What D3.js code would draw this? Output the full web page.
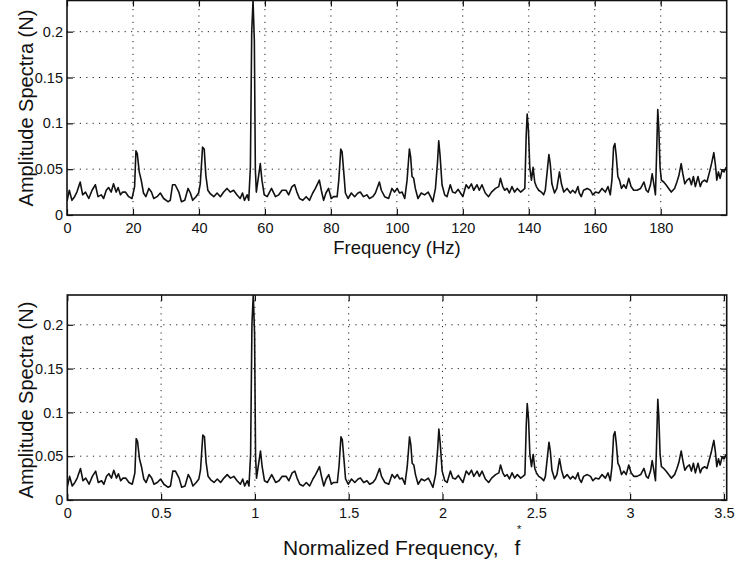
<!DOCTYPE html>
<html>
<head>
<meta charset="utf-8">
<script src="https://cdn.jsdelivr.net/npm/d3@7"></script>
<style>
  html, body { margin: 0; padding: 0; background: #fff; }
  svg { display: block; }
  text { font-family: "Liberation Sans", Arial, Helvetica, sans-serif; fill: #111; }
</style>
</head>
<body>
<svg id="chart" width="735" height="565"></svg>
<script>
// ---------- data ----------
const freqHz = [
  0.0, 0.7, 1.5, 2.3, 3.0, 4.0, 4.75, 5.6, 6.6, 7.6, 8.6, 9.4, 10.4, 11.1, 11.9, 12.6, 13.4, 14.1, 14.9, 15.5,
  16.2, 16.9, 17.7, 18.7, 19.7, 20.5, 20.9, 21.3, 21.9, 22.5, 23.2, 23.9, 24.8, 25.6, 26.3, 27.3, 28.3, 29.3, 30.6, 31.3,
  32.0, 32.8, 33.9, 34.7, 35.7, 36.7, 37.4, 38.1, 39.1, 39.9, 40.4, 41.1, 41.6, 42.1, 42.7, 43.5, 44.5, 45.5, 46.5, 47.5,
  48.5, 49.5, 50.5, 51.5, 52.5, 53.2, 53.8, 54.6, 55.1, 55.6, 56.0, 56.4, 56.8, 57.1, 57.4, 57.9, 58.6, 59.1, 59.8, 60.7,
  62.0, 63.2, 64.2, 65.2, 66.4, 67.2, 68.2, 69.0, 69.7, 70.5, 71.5, 72.5, 73.5, 74.5, 75.3, 76.5, 77.1, 77.8, 78.5, 79.3,
  80.1, 80.8, 81.9, 82.4, 83.0, 83.4, 83.9, 84.4, 85.2, 86.2, 87.2, 88.2, 88.9, 89.9, 90.9, 91.7, 92.7, 93.5, 94.7, 95.3,
  96.3, 97.5, 98.5, 99.3, 100.1, 100.8, 101.6, 102.4, 103.1, 103.8, 104.2, 104.6, 105.1, 105.6, 106.4, 107.4, 108.4, 109.5, 110.2, 110.9,
  111.7, 112.3, 112.7, 113.1, 113.7, 114.5, 115.2, 116.2, 116.9, 117.7, 118.6, 119.3, 120.0, 121.0, 121.8, 122.6, 123.3, 124.3, 125.0, 125.8,
  126.8, 127.8, 128.7, 129.9, 130.9, 131.4, 132.1, 132.7, 133.4, 134.1, 134.9, 135.7, 136.5, 137.5, 138.2, 138.8, 139.2, 139.5, 139.9, 140.3,
  140.8, 141.3, 141.8, 142.3, 143.0, 143.8, 144.5, 145.0, 145.7, 146.1, 146.5, 147.0, 147.8, 148.5, 149.3, 149.9, 150.6, 151.6, 152.6, 153.3,
  154.1, 154.9, 155.3, 155.9, 156.6, 157.7, 158.7, 159.4, 160.2, 161.2, 162.2, 163.2, 164.0, 164.7, 165.2, 165.7, 166.1, 166.5, 167.0, 167.5,
  168.1, 168.8, 169.5, 170.3, 171.0, 171.8, 172.8, 173.9, 174.9, 175.6, 176.2, 176.9, 177.4, 177.9, 178.4, 178.7, 179.1, 179.4, 179.8, 180.2,
  180.9, 181.6, 182.4, 183.2, 184.2, 184.9, 185.5, 186.2, 186.7, 187.3, 188.0, 188.7, 189.3, 189.9, 190.5, 191.3, 192.0, 192.5, 193.3, 194.0,
  194.8, 195.4, 196.1, 196.6, 197.0, 197.5, 198.0, 198.6, 199.2, 199.8
];
const amplitude = [
  0.015, 0.027, 0.016, 0.020, 0.025, 0.036, 0.022, 0.025, 0.018, 0.027, 0.033, 0.020, 0.022, 0.018, 0.027, 0.030, 0.025, 0.034, 0.025, 0.030,
  0.022, 0.025, 0.025, 0.020, 0.018, 0.031, 0.070, 0.067, 0.047, 0.038, 0.024, 0.020, 0.029, 0.025, 0.018, 0.020, 0.024, 0.018, 0.0145, 0.016,
  0.033, 0.033, 0.025, 0.0145, 0.016, 0.029, 0.024, 0.016, 0.020, 0.024, 0.034, 0.074, 0.072, 0.043, 0.027, 0.023, 0.020, 0.024, 0.020, 0.025,
  0.029, 0.025, 0.027, 0.022, 0.018, 0.024, 0.016, 0.022, 0.016, 0.052, 0.200, 0.234, 0.190, 0.050, 0.025, 0.038, 0.056, 0.038, 0.022, 0.020,
  0.029, 0.020, 0.022, 0.027, 0.027, 0.022, 0.031, 0.033, 0.025, 0.018, 0.016, 0.020, 0.016, 0.024, 0.029, 0.038, 0.027, 0.016, 0.024, 0.029,
  0.018, 0.020, 0.020, 0.038, 0.072, 0.069, 0.047, 0.024, 0.018, 0.024, 0.020, 0.024, 0.025, 0.020, 0.022, 0.018, 0.020, 0.024, 0.036, 0.027,
  0.020, 0.018, 0.029, 0.025, 0.029, 0.024, 0.025, 0.018, 0.038, 0.072, 0.063, 0.042, 0.040, 0.029, 0.018, 0.024, 0.022, 0.025, 0.020, 0.0145,
  0.029, 0.056, 0.081, 0.065, 0.033, 0.022, 0.020, 0.033, 0.025, 0.024, 0.028, 0.024, 0.020, 0.033, 0.029, 0.034, 0.027, 0.033, 0.027, 0.033,
  0.024, 0.020, 0.025, 0.029, 0.031, 0.040, 0.031, 0.027, 0.029, 0.024, 0.031, 0.025, 0.029, 0.025, 0.027, 0.029, 0.085, 0.110, 0.092, 0.052,
  0.038, 0.052, 0.036, 0.031, 0.027, 0.025, 0.022, 0.027, 0.052, 0.066, 0.056, 0.034, 0.024, 0.029, 0.047, 0.034, 0.025, 0.029, 0.024, 0.027,
  0.024, 0.031, 0.024, 0.020, 0.027, 0.029, 0.027, 0.022, 0.025, 0.024, 0.029, 0.025, 0.031, 0.022, 0.038, 0.074, 0.078, 0.065, 0.042, 0.038,
  0.029, 0.033, 0.029, 0.040, 0.031, 0.027, 0.027, 0.029, 0.036, 0.027, 0.025, 0.033, 0.045, 0.034, 0.022, 0.060, 0.115, 0.096, 0.052, 0.038,
  0.036, 0.033, 0.029, 0.025, 0.029, 0.036, 0.043, 0.056, 0.045, 0.034, 0.038, 0.040, 0.033, 0.042, 0.031, 0.042, 0.031, 0.036, 0.038, 0.036,
  0.047, 0.056, 0.068, 0.054, 0.038, 0.047, 0.040, 0.049, 0.047, 0.052
];
const fundamentalHz = 56.9;            // normalisation frequency for the lower panel
const hzTicks = [0, 20, 40, 60, 80, 100, 120, 140, 160, 180];
const normTicks = [0, 0.5, 1, 1.5, 2, 2.5, 3, 3.5];
const normTickLabels = ["0", "0.5", "1", "1.5", "2", "2.5", "3", "3.5"];
const ampTicks = [0, 0.05, 0.1, 0.15, 0.2];
const ampTickLabels = ["0", "0.05", "0.1", "0.15", "0.2"];
const yMax = 0.234;

// ---------- drawing ----------
const svg = d3.select("#chart");
const data = freqHz.map((f, i) => ({ f, a: amplitude[i] }));

function panel(opts) {
  const { id, x, y, xTicks, xLabels, xVal, yTitleCenter } = opts;
  const [x0, x1] = x.range();
  const [yb, yt] = y.range();
  const g = svg.append("g");

  g.append("clipPath").attr("id", id)
    .append("rect").attr("x", x0).attr("y", yt).attr("width", x1 - x0).attr("height", yb - yt);

  // grid
  const grid = g.append("g").attr("stroke", "#222").attr("stroke-width", 1)
    .attr("stroke-dasharray", "1.2,5.2");
  grid.selectAll("line.vx").data(xTicks.filter(t => x(t) > x0 + 2 && x(t) < x1 - 1)).join("line")
    .attr("x1", d => x(d)).attr("x2", d => x(d)).attr("y1", yb).attr("y2", yt);
  grid.selectAll("line.hy").data(ampTicks.filter(t => t > 0)).join("line")
    .attr("x1", x0).attr("x2", x1).attr("y1", d => y(d)).attr("y2", d => y(d));

  // axes (inward ticks, MATLAB style)
  const tickLen = 6;
  const bottom = g.append("g").attr("transform", `translate(0,${yb})`)
    .call(d3.axisBottom(x).tickValues(xTicks).tickFormat((d, i) => xLabels[i])
      .tickSizeInner(-tickLen).tickSizeOuter(0).tickPadding(8));
  const top = g.append("g").attr("transform", `translate(0,${yt})`)
    .call(d3.axisTop(x).tickValues(xTicks).tickFormat("").tickSizeInner(-tickLen).tickSizeOuter(0));
  const left = g.append("g").attr("transform", `translate(${x0},0)`)
    .call(d3.axisLeft(y).tickValues(ampTicks).tickFormat((d, i) => ampTickLabels[i])
      .tickSizeInner(-tickLen).tickSizeOuter(0).tickPadding(4));
  const right = g.append("g").attr("transform", `translate(${x1},0)`)
    .call(d3.axisRight(y).tickValues(ampTicks).tickFormat("").tickSizeInner(-tickLen).tickSizeOuter(0));
  [bottom, top, left, right].forEach(a => {
    a.select(".domain").remove();
    a.selectAll(".tick line").attr("stroke", "#111").attr("stroke-width", 1.2);
    a.selectAll(".tick text").attr("font-size", 14.5).attr("fill", "#111")
      .attr("font-family", '"Liberation Sans", Arial, sans-serif');
  });

  // data line
  const line = d3.line().x(d => x(xVal(d))).y(d => y(d.a));
  g.append("path").datum(data)
    .attr("clip-path", `url(#${id})`)
    .attr("fill", "none").attr("stroke", "#111").attr("stroke-width", 1.6)
    .attr("stroke-linejoin", "round")
    .attr("d", line);

  // frame
  g.append("rect").attr("x", x0).attr("y", yt).attr("width", x1 - x0).attr("height", yb - yt)
    .attr("fill", "none").attr("stroke", "#111").attr("stroke-width", 1.6);

  // y title
  g.append("text")
    .attr("transform", `translate(33,${yTitleCenter}) rotate(-90)`)
    .attr("text-anchor", "middle").attr("font-size", 20)
    .text("Amplitude Spectra (N)");

  return g;
}

const xTop = d3.scaleLinear().domain([0, 200]).range([67, 726.7]);
const yTop = d3.scaleLinear().domain([0, yMax]).range([215, 0.5]);
const gTop = panel({
  id: "clipTop", x: xTop, y: yTop, xTicks: hzTicks, xLabels: hzTicks.map(String),
  xVal: d => d.f, yTitleCenter: 108
});
gTop.append("text").attr("x", 397).attr("y", 254).attr("text-anchor", "middle")
  .attr("font-size", 18.5).text("Frequency (Hz)");

const xBot = d3.scaleLinear().domain([0, 200 / fundamentalHz]).range([67.3, 726.7]);
const yBot = d3.scaleLinear().domain([0, yMax]).range([500, 295]);
const gBot = panel({
  id: "clipBot", x: xBot, y: yBot, xTicks: normTicks, xLabels: normTickLabels,
  xVal: d => d.f / fundamentalHz, yTitleCenter: 400
});
const bt = gBot.append("text").attr("x", 283).attr("y", 555).attr("text-anchor", "start")
  .attr("font-size", 21);
bt.append("tspan").text("Normalized Frequency,");
bt.append("tspan").attr("dx", 16).text("f");
// superscript star placed above the f
let fRight = 525;
try { const bb = bt.node().getBBox(); fRight = bb.x + bb.width; } catch (e) {}
gBot.append("text").attr("x", fRight - 1.5).attr("y", 533)
  .attr("text-anchor", "middle").attr("font-size", 11).text("*");
</script>
</body>
</html>
